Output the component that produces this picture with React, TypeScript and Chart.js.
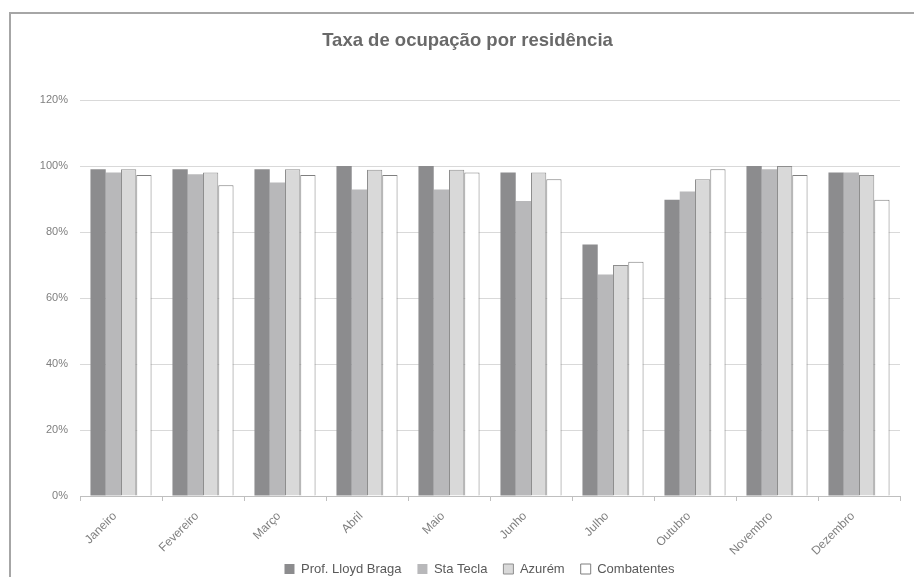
import { useEffect, useRef } from 'react';
import { Chart, registerables } from 'chart.js';

Chart.register(...registerables);

const categories = ['Janeiro', 'Fevereiro', 'Março', 'Abril', 'Maio', 'Junho', 'Julho', 'Outubro', 'Novembro', 'Dezembro'];
const seriesNames = ['Prof. Lloyd Braga', 'Sta Tecla', 'Azurém', 'Combatentes'];
const lloydBraga = [99, 99, 99, 100, 100, 98, 76.2, 89.8, 100, 98];
const staTecla = [98, 97.5, 95, 92.9, 92.9, 89.4, 67.1, 92.3, 99, 98];
const azurem = [99, 98, 99, 98.9, 98.9, 98, 70, 96, 100, 97.3];
const combatentes = [97.3, 94.2, 97.3, 97.3, 98, 96, 71, 99, 97.3, 89.8];
const yMin = 0;
const yMax = 120;
const yStep = 20;
const titleText = 'Taxa de ocupação por residência';

const FONT = "'Liberation Sans', Arial, sans-serif";

export default function App() {
  const ref = useRef<HTMLCanvasElement>(null);

  useEffect(() => {
    const framePlugin = {
      id: 'frame',
      beforeDraw(chart: any) {
        const ctx = chart.ctx;
        ctx.save();
        ctx.strokeStyle = '#a6a6a6';
        ctx.lineWidth = 2;
        ctx.beginPath();
        ctx.moveTo(10, chart.height);
        ctx.lineTo(10, 13);
        ctx.lineTo(chart.width, 13);
        ctx.stroke();
        ctx.restore();
      },
    };
    const legendOffset = {
      id: 'legendOffset',
      afterLayout(chart: any) {
        const lg = chart.legend;
        if (lg) {
          lg.left += 12;
          lg.right += 12;
          lg.top -= 12.5;
          lg.bottom -= 12.5;
        }
      },
    };

    const chart = new Chart(ref.current as HTMLCanvasElement, {
      type: 'bar',
      data: {
        labels: categories,
        datasets: [
          { label: seriesNames[0], data: lloydBraga, backgroundColor: '#8c8c8e', borderWidth: 0 },
          { label: seriesNames[1], data: staTecla, backgroundColor: '#b8b8ba', borderWidth: 0 },
          { label: seriesNames[2], data: azurem, backgroundColor: '#d9d9d9', borderColor: '#8e8e8e', borderWidth: 1 },
          { label: seriesNames[3], data: combatentes, backgroundColor: '#ffffff', borderColor: '#7f7f7f', borderWidth: 1 },
        ],
      },
      options: {
        responsive: false,
        animation: false,
        devicePixelRatio: 1,
        layout: { padding: { left: 21, right: 0, top: 0, bottom: 0 } },
        datasets: { bar: { categoryPercentage: 0.745, barPercentage: 1 } },
        plugins: {
          title: {
            display: true,
            text: titleText,
            color: '#696969',
            font: { family: FONT, size: 18.5, weight: 'bold' },
            padding: { top: 30, bottom: 47.8 },
          },
          legend: {
            position: 'bottom',
            labels: {
              color: '#595959',
              font: { family: FONT, size: 13 },
              boxWidth: 10,
              boxHeight: 10,
              padding: 16,
            },
          },
          tooltip: { enabled: false },
        },
        scales: {
          x: {
            afterFit: (scale: any) => { scale.height = 63; },
            grid: { display: true, drawOnChartArea: false, drawTicks: true, tickLength: 5, color: '#bfbfbf', offset: true },
            border: { display: true, color: '#bfbfbf' },
            ticks: {
              color: '#7f7f7f',
              font: { family: FONT, size: 12 },
              minRotation: 45,
              maxRotation: 45,
              autoSkip: false,
              padding: 8,
              labelOffset: -6,
            },
          },
          y: {
            min: yMin,
            max: yMax,
            afterFit: (scale: any) => { scale.width = 59; },
            grid: { color: '#d9d9d9', drawTicks: false },
            border: { display: false },
            ticks: {
              stepSize: yStep,
              color: '#7f7f7f',
              font: { family: FONT, size: 11 },
              padding: 12,
              callback: (v: any) => `${v}%`,
            },
          },
          yRight: {
            position: 'right',
            display: true,
            afterFit: (scale: any) => { scale.width = 14; },
            grid: { display: false },
            border: { display: false },
            ticks: { display: false },
          },
        },
      },
      plugins: [framePlugin, legendOffset],
    });
    return () => chart.destroy();
  }, []);

  return (
    <div style={{ position: 'fixed', left: 0, top: 0, width: 914, height: 577, overflow: 'hidden', background: '#fff' }}>
      <canvas ref={ref} width={914} height={598} style={{ display: 'block' }} />
    </div>
  );
}
